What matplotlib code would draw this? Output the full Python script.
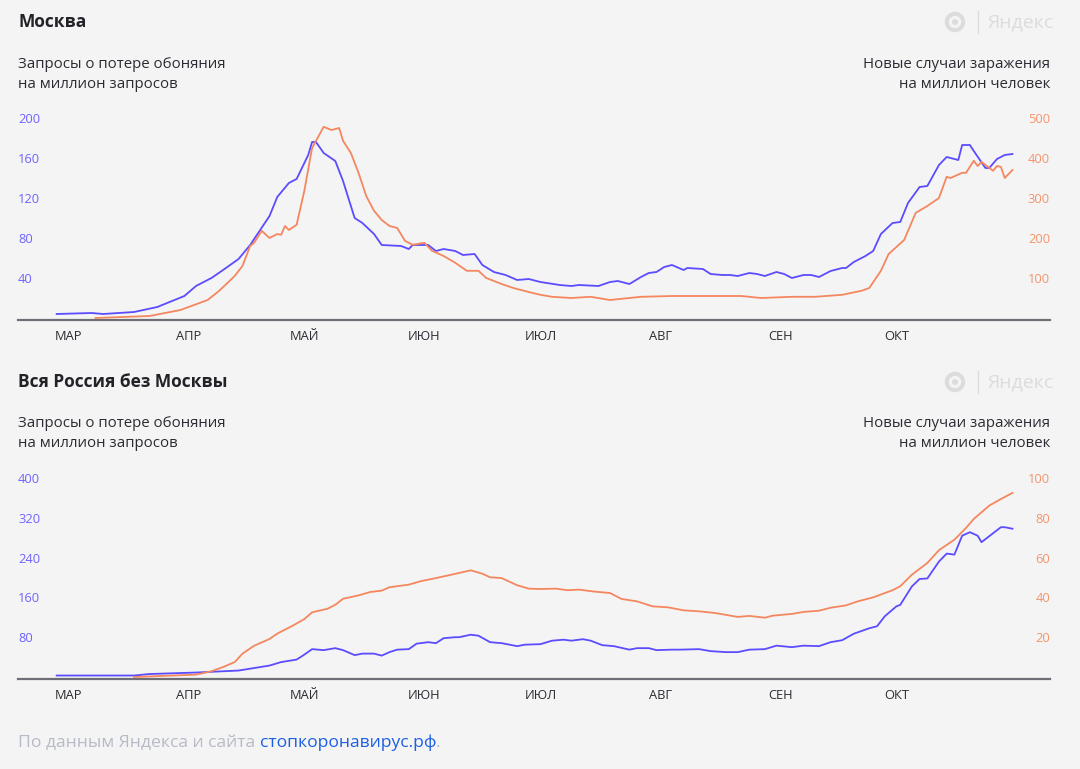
import matplotlib
matplotlib.use('Agg')
import matplotlib.pyplot as plt
from matplotlib.patches import Circle
from matplotlib.lines import Line2D

plt.rcParams['font.family'] = ['Open Sans', 'DejaVu Sans']

BG = '#f4f4f4'
BLUE = '#5b4cff'
ORANGE = '#f4875f'
BLUE_TXT = '#7064ff'
ORANGE_TXT = '#f4946c'
DARK = '#2b2b33'
LOGO = '#dcdcdc'

# days counted from 1 March
months = ['МАР', 'АПР', 'МАЙ', 'ИЮН', 'ИЮЛ', 'АВГ', 'СЕН', 'ОКТ']
month_days = [0, 31, 61, 92, 122, 153, 184, 214]

# Москва: запросы о потере обоняния на млн запросов
msk_search_days = [-3, 6, 9, 17, 23, 30, 33, 37, 40, 44, 47, 52, 54, 57, 59, 62, 63, 64, 66, 69,
                   71, 74, 76, 79, 81, 86, 88, 89, 93, 95, 97, 100, 102, 105, 107, 110, 113, 116,
                   119, 122, 127, 130, 132, 137, 140, 142, 145, 148, 150, 152, 154, 156, 159, 160,
                   164, 166, 169, 171, 173, 176, 178, 180, 183, 185, 187, 190, 192, 194, 197, 200,
                   201, 203, 206, 208, 210, 213, 215, 217, 220, 222, 225, 227, 230, 231, 233, 234,
                   237, 238, 240, 242, 244]
msk_search = [4, 5, 4, 6, 11, 22, 32, 40, 48, 59, 73, 102, 121, 135, 139, 163, 176, 176, 165, 157,
              137, 100, 95, 84, 73, 72, 69, 73, 73, 67, 69, 67, 63, 64, 53, 46, 43, 38,
              39, 36, 33, 32, 33, 32, 36, 37, 34, 41, 45, 46, 51, 53, 48, 50,
              49, 44, 43, 43, 42, 45, 44, 42, 46, 44, 40, 43, 43, 41, 47, 50,
              50, 56, 62, 67, 84, 95, 96, 115, 131, 132, 153, 161, 158, 173, 173, 167,
              150, 150, 159, 163, 164]

# Москва: новые случаи на млн человек
msk_cases_days = [7, 21, 29, 36, 39, 43, 45, 47, 48, 50, 52, 54, 55, 56, 57, 59, 61, 63, 66, 68,
                  70, 71, 73, 75, 77, 79, 81, 83, 85, 87, 89, 92, 94, 97, 100, 103, 106, 108,
                  112, 115, 119, 122, 125, 130, 135, 140, 148, 156, 165, 174, 179, 187, 193, 200,
                  205, 207, 210, 212, 216, 219, 222, 225, 227, 228, 231, 232, 234, 235, 236, 239,
                  240, 241, 242, 244]
msk_cases = [0, 5, 20, 45, 68, 105, 130, 180, 188, 218, 200, 210, 208, 230, 220, 233, 318, 425, 478, 470,
             475, 443, 413, 363, 305, 268, 245, 230, 225, 193, 183, 188, 168, 155, 138, 118, 118, 100,
             85, 75, 65, 58, 53, 50, 53, 45, 53, 55, 55, 55, 50, 53, 53, 58,
             68, 75, 118, 160, 195, 263, 280, 300, 353, 350, 363, 363, 393, 380, 390, 368,
             380, 378, 350, 370]

# Вся Россия без Москвы: запросы
rus_search_days = [-3, 17, 21, 33, 44, 48, 52, 55, 59, 61, 63, 66, 69, 71, 74, 76, 79, 81, 83, 85,
                   88, 90, 93, 95, 97, 100, 101, 104, 106, 109, 112, 114, 116, 118, 122, 125, 128,
                   130, 133, 135, 138, 141, 145, 147, 150, 152, 156, 158, 163, 166, 170, 173, 176,
                   180, 183, 187, 190, 194, 197, 200, 203, 207, 209, 211, 214, 215, 218, 220, 222,
                   225, 227, 229, 231, 233, 235, 236, 238, 241, 242, 244]
rus_search = [3, 3, 6, 9, 13, 18, 23, 30, 35, 45, 56, 54, 58, 54, 44, 47, 47, 43, 50, 55,
              56, 67, 70, 68, 78, 80, 80, 85, 83, 70, 68, 65, 62, 65, 66, 73, 75,
              73, 76, 73, 64, 62, 55, 58, 58, 54, 55, 55, 56, 52, 50, 50, 55,
              56, 63, 60, 63, 62, 70, 74, 87, 98, 102, 122, 142, 145, 182, 197, 198,
              232, 248, 246, 284, 291, 284, 271, 283, 301, 301, 298]

# Вся Россия без Москвы: новые случаи
rus_cases_days = [17, 29, 33, 37, 40, 43, 45, 48, 52, 54, 58, 61, 63, 67, 69, 71, 75, 78, 81, 83,
                  88, 91, 95, 99, 104, 107, 109, 112, 116, 119, 122, 126, 129, 132, 136, 140, 143,
                  147, 151, 155, 159, 163, 167, 173, 176, 180, 182, 187, 190, 194, 197, 201, 204,
                  208, 213, 215, 218, 222, 225, 229, 232, 234, 238, 241, 244]
rus_cases = [0, 0.9, 1.2, 2.9, 5, 7.5, 11.7, 15.7, 19.1, 21.8, 25.8, 29.1, 32.5, 34.3, 36.3, 39.3,
             41, 42.7, 43.4, 45.1, 46.4, 48.1, 49.7, 51.4, 53.6, 51.9, 50.1, 49.7, 46.1, 44.4,
             44.2, 44.4, 43.6, 43.9, 42.9, 42.2, 39.2, 38, 35.5, 35, 33.5, 33, 32.2, 30.2, 30.7,
             29.8, 30.8, 31.7, 32.7, 33.3, 34.8, 36, 38, 40, 43.6, 45.6, 51.4, 57.3, 63.7, 69,
             74.9, 79.4, 86.1, 89.4, 92.5]

fig = plt.figure(figsize=(10.8, 7.69), dpi=100, facecolor=BG)
W, H = 1080, 769


def logo(ycen):
    tr = fig.dpi_scale_trans
    fig.add_artist(Circle((955 / 100, (H - ycen) / 100), 0.082, transform=tr,
                          facecolor='none', edgecolor=LOGO, lw=2.9))
    fig.add_artist(Circle((955 / 100, (H - ycen) / 100), 0.03, transform=tr,
                          facecolor=LOGO, edgecolor='none'))
    fig.add_artist(Line2D([9.78, 9.78], [(H - ycen - 11) / 100, (H - ycen + 11) / 100],
                          transform=tr, color=LOGO, lw=1))
    fig.text(988 / W, 1 - ycen / H, 'Яндекс', fontsize=14, color=LOGO, va='center', ha='left')


def panel(ytop, ybase, title, sdays, svals, cdays, cvals, lticks, rticks, lylim, rylim):
    # title and axis captions
    fig.text(18 / W, 1 - (ytop - 88) / H, title, fontsize=12.5, fontweight='bold', color='#222228',
             va='center')
    fig.text(18 / W, 1 - (ytop - 46) / H, 'Запросы о потере обоняния', fontsize=10.8, color=DARK, va='center')
    fig.text(18 / W, 1 - (ytop - 26) / H, 'на миллион запросов', fontsize=10.8, color=DARK, va='center')
    fig.text(1050 / W, 1 - (ytop - 46) / H, 'Новые случаи заражения', fontsize=10.8, color=DARK,
             va='center', ha='right')
    fig.text(1050 / W, 1 - (ytop - 26) / H, 'на миллион человек', fontsize=10.8, color=DARK,
             va='center', ha='right')
    logo(ytop - 88)

    ax = fig.add_axes([18 / W, 1 - ybase / H, 1032 / W, (ybase - ytop) / H])
    ax.patch.set_alpha(0)
    ax2 = ax.twinx()
    ax2.patch.set_alpha(0)

    ax.plot(sdays, svals, color=BLUE, lw=1.3, zorder=3)
    ax2.plot(cdays, cvals, color=ORANGE, lw=1.3, zorder=3)

    ax.set_xlim(-13, 253.7)
    ax.set_ylim(*lylim)
    ax2.set_ylim(*rylim)

    ax.set_xticks(month_days, months)
    ax.tick_params(axis='x', length=0, pad=7, labelsize=9.3, labelcolor=DARK)
    ax.set_yticks(lticks, [str(t) for t in lticks], ha='left')
    ax.tick_params(axis='y', length=0, pad=0, labelsize=9.3, labelcolor=BLUE_TXT)
    ax2.set_yticks(rticks, [str(t) for t in rticks], ha='right')
    ax2.tick_params(axis='y', length=0, pad=0, labelsize=9.3, labelcolor=ORANGE_TXT)

    for a in (ax, ax2):
        for s in ('top', 'left', 'right'):
            a.spines[s].set_visible(False)
    ax2.spines['bottom'].set_visible(False)
    ax.spines['bottom'].set_color('#6e6e76')
    ax.spines['bottom'].set_linewidth(1.6)
    ax.spines['bottom'].set_zorder(5)
    return ax


panel(110, 320, 'Москва', msk_search_days, msk_search, msk_cases_days, msk_cases,
      [40, 80, 120, 160, 200], [100, 200, 300, 400, 500], (-2, 208), (-5, 520))
panel(470, 679, 'Вся Россия без Москвы', rus_search_days, rus_search, rus_cases_days, rus_cases,
      [80, 160, 240, 320, 400], [20, 40, 60, 80, 100], (-4, 416), (-1, 104))

# footer
fig.canvas.draw()
r = fig.canvas.get_renderer()
t1 = fig.text(18 / W, 1 - 743 / H, 'По данным Яндекса и сайта ', fontsize=12.6, color='#b7bbc7', va='center')
x1 = t1.get_window_extent(r).x1
t2 = fig.text(x1 / W, 1 - 743 / H, 'стопкоронавирус.рф', fontsize=12.6, color='#1b5fe4', va='center')
x2 = t2.get_window_extent(r).x1
fig.text(x2 / W, 1 - 743 / H, '.', fontsize=12.6, color='#b7bbc7', va='center')

plt.savefig('out.png', dpi=100, facecolor=BG)
